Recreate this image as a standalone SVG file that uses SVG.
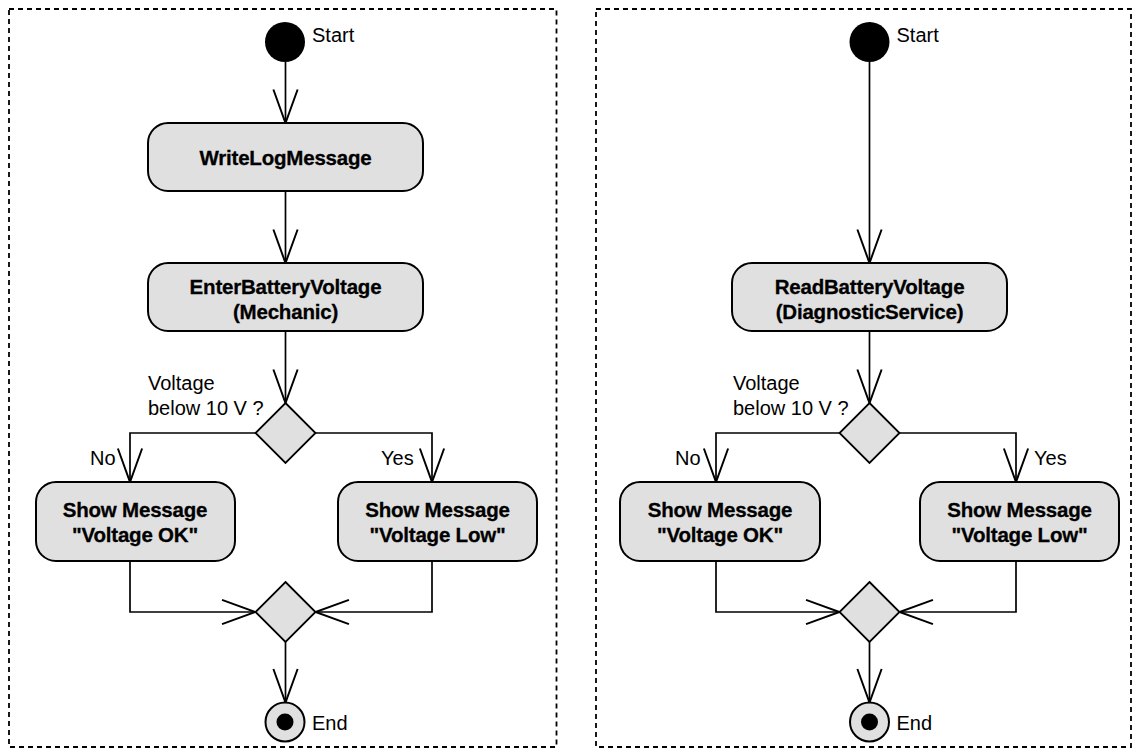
<svg xmlns="http://www.w3.org/2000/svg" width="1135" height="751" viewBox="0 0 1135 751">
<defs>
<marker id="arr" markerUnits="userSpaceOnUse" markerWidth="40" markerHeight="30" refX="0" refY="0" viewBox="-32 -13 34 26" orient="auto" overflow="visible">
<path d="M-29,-10.5 L0,0 L-29,10.5" fill="none" stroke="#000" stroke-width="1.7"/>
</marker>
<style>
.frame{fill:none;stroke:#000;stroke-width:1.8;stroke-dasharray:5,4}
.act{fill:#e0e0e0;stroke:#000;stroke-width:2}
.dec{fill:#e0e0e0;stroke:#000;stroke-width:1.8}
.con{fill:none;stroke:#000;stroke-width:1.7}
.b{font-family:"Liberation Sans",Arial,sans-serif;font-weight:bold;font-size:20.5px;fill:#000;stroke:#000;stroke-width:0.3;text-anchor:middle;letter-spacing:-0.2px}
.l{font-family:"Liberation Sans",Arial,sans-serif;font-size:20px;fill:#000}
</style>
</defs>
<rect id="frameLeft" class="frame" x="9" y="9" width="547.5" height="738"/>
<rect id="frameRight" class="frame" x="596" y="9" width="535" height="738"/>

<g id="connectors">
<line class="con" x1="285.5" y1="62" x2="285.5" y2="123" marker-end="url(#arr)"/>
<line class="con" x1="285.5" y1="191" x2="285.5" y2="263" marker-end="url(#arr)"/>
<line class="con" x1="285.5" y1="331" x2="285.5" y2="403" marker-end="url(#arr)"/>
<path class="con" d="M255.5,433 H130 V482" marker-end="url(#arr)"/>
<path class="con" d="M315.5,433 H432 V482" marker-end="url(#arr)"/>
<path class="con" d="M130,561 V612 H255.5" marker-end="url(#arr)"/>
<path class="con" d="M432,561 V612 H315.5" marker-end="url(#arr)"/>
<line class="con" x1="285.5" y1="642" x2="285.5" y2="702.5" marker-end="url(#arr)"/>

<line class="con" x1="869.5" y1="62" x2="869.5" y2="263" marker-end="url(#arr)"/>
<line class="con" x1="869.5" y1="331" x2="869.5" y2="403" marker-end="url(#arr)"/>
<path class="con" d="M839.5,433 H716 V482" marker-end="url(#arr)"/>
<path class="con" d="M899.5,433 H1016 V482" marker-end="url(#arr)"/>
<path class="con" d="M716,561 V612 H839.5" marker-end="url(#arr)"/>
<path class="con" d="M1016,561 V612 H899.5" marker-end="url(#arr)"/>
<line class="con" x1="869.5" y1="642" x2="869.5" y2="702.5" marker-end="url(#arr)"/>
</g>

<g id="startL"><circle cx="285" cy="42" r="20" fill="#000"/><text class="l" x="312" y="42">Start</text></g>
<g id="writeLog"><rect class="act" x="148" y="123" width="275" height="68" rx="20"/><text class="b" x="285.5" y="165">WriteLogMessage</text></g>
<g id="enterVoltage"><rect class="act" x="148" y="263" width="275" height="68" rx="20"/><text class="b" x="285.5" y="294">EnterBatteryVoltage</text><text class="b" x="285.5" y="319">(Mechanic)</text></g>
<g id="decL"><polygon class="dec" points="285.5,403 315.5,433 285.5,463 255.5,433"/><text class="l" x="148" y="390">Voltage</text><text class="l" x="148" y="415">below 10 V ?</text></g>
<g id="labelsL"><text class="l" x="90" y="465">No</text><text class="l" x="381" y="465">Yes</text></g>
<g id="okL"><rect class="act" x="36" y="482" width="199" height="79" rx="20"/><text class="b" x="135" y="517">Show Message</text><text class="b" x="135" y="542">"Voltage OK"</text></g>
<g id="lowL"><rect class="act" x="338" y="482" width="199" height="79" rx="20"/><text class="b" x="437.5" y="517">Show Message</text><text class="b" x="437.5" y="542">"Voltage Low"</text></g>
<g id="mergeL"><polygon class="dec" points="285.5,582 315.5,612 285.5,642 255.5,612"/></g>
<g id="endL"><circle class="act" cx="285" cy="722" r="19.5"/><circle cx="285" cy="722" r="8.5" fill="#000"/><text class="l" x="312" y="730">End</text></g>

<g id="startR"><circle cx="869.5" cy="42" r="20" fill="#000"/><text class="l" x="896.5" y="42">Start</text></g>
<g id="readVoltage"><rect class="act" x="732" y="263" width="275" height="68" rx="20"/><text class="b" x="869.5" y="294">ReadBatteryVoltage</text><text class="b" x="869.5" y="319">(DiagnosticService)</text></g>
<g id="decR"><polygon class="dec" points="869.5,403 899.5,433 869.5,463 839.5,433"/><text class="l" x="733" y="390">Voltage</text><text class="l" x="733" y="415">below 10 V ?</text></g>
<g id="labelsR"><text class="l" x="675" y="465">No</text><text class="l" x="1034" y="465">Yes</text></g>
<g id="okR"><rect class="act" x="620" y="482" width="200" height="79" rx="20"/><text class="b" x="720" y="517">Show Message</text><text class="b" x="720" y="542">"Voltage OK"</text></g>
<g id="lowR"><rect class="act" x="920" y="482" width="199" height="79" rx="20"/><text class="b" x="1019.5" y="517">Show Message</text><text class="b" x="1019.5" y="542">"Voltage Low"</text></g>
<g id="mergeR"><polygon class="dec" points="869.5,582 899.5,612 869.5,642 839.5,612"/></g>
<g id="endR"><circle class="act" cx="869.5" cy="722" r="19.5"/><circle cx="869.5" cy="722" r="8.5" fill="#000"/><text class="l" x="896.5" y="730">End</text></g>
</svg>
